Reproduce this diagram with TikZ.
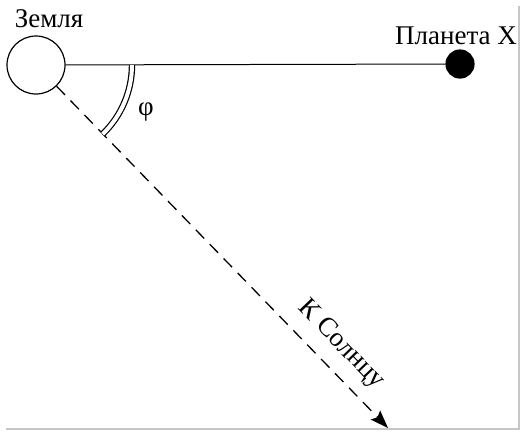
\documentclass[tikz,border=0pt]{standalone}
\usepackage{fontspec}
\setmainfont{Liberation Serif}
\usetikzlibrary{arrows.meta}
\begin{document}
\begin{tikzpicture}[x=1pt,y=-1pt, every node/.style={inner sep=0pt,font=\fontsize{27}{32}\selectfont},
  body/.style={circle,draw,line width=1.2pt}]
\useasboundingbox (0,0) rectangle (520,432);
\draw[gray!45,line width=1.5pt] (6,429) -- (519,429) -- (519,6);
\node[body,minimum size=58pt] (earth) at (36,65) {}; \node at (49,19) {Земля};
\node[body,fill,minimum size=28pt] (planet) at (460,64) {}; \node at (456,36) {Планета X};
\coordinate (sun) at (388,428);
\draw[line width=1pt] (earth) -- (planet);
\draw[line width=1.3pt,dash pattern=on 12pt off 8pt,-{Stealth[length=18pt,width=13pt,inset=3pt]}] (earth) -- (sun);
\draw[line width=1.2pt,double distance=4pt] (earth.center) ++(0:96) arc[start angle=0,end angle=46,radius=96];
\node at (146,112) {φ};
\node[rotate=-46] at (341,345) {К Солнцу};
\end{tikzpicture}
\end{document}
